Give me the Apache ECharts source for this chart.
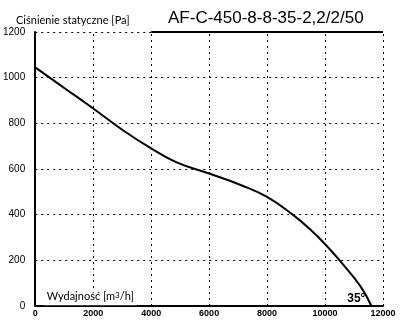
<!DOCTYPE html>
<html><head><meta charset="utf-8">
<script src="https://cdn.jsdelivr.net/npm/echarts@6/dist/echarts.min.js"></script>
<style>html,body{margin:0;padding:0;background:#fff}#c{width:400px;height:326px}</style>
</head><body><div id="c"></div>
<script>
const flowX = [0, 1000, 2000, 3000, 4000, 4880, 6000, 7110, 8000, 8885, 9510, 10030, 10540, 11230, 11600];
const pressureY = [1045, 955, 865, 772, 690, 629, 580, 529, 478, 400, 333, 267, 194, 85, 0];
const xTicks = [0, 2000, 4000, 6000, 8000, 10000, 12000];
const yTicks = [0, 200, 400, 600, 800, 1000, 1200];
const titleText = 'AF-C-450-8-8-35-2,2/2/50';
const yName = 'Ciśnienie statyczne [Pa]';
const angleLabel = '35°';

const chart = echarts.init(document.getElementById('c'), null, {renderer: 'canvas'});
const dotStyle = () => ({color: '#000', width: 1, type: [2, 4]});
const gridMarks = [];
xTicks.slice(1).forEach(v => gridMarks.push({xAxis: v, lineStyle: dotStyle()}));
yTicks.slice(1).forEach(v => gridMarks.push({yAxis: v, lineStyle: dotStyle()}));
chart.setOption({
  animation: false,
  backgroundColor: '#fff',
  grid: {left: 33, right: 17, top: 32, bottom: 20, containLabel: false},
  title: [
    {text: titleText, left: 163, top: 5, textStyle: {fontFamily: 'Liberation Sans', fontWeight: 'normal', fontSize: 17, color: '#000'}},
    {text: yName, left: 11, top: 10, textStyle: {fontFamily: 'Lato', fontWeight: 'normal', fontSize: 11, color: '#000'}}
  ],
  xAxis: {
    type: 'value', min: xTicks[0], max: xTicks[xTicks.length - 1], interval: 2000,
    axisLine: {show: true, onZero: false, lineStyle: {color: '#000', width: 2}},
    axisTick: {show: false},
    axisLabel: {color: '#000', fontFamily: 'Liberation Sans', fontWeight: 'bold', fontSize: 9, margin: 3, formatter: v => String(v)},
    splitLine: {show: false}
  },
  yAxis: {
    type: 'value', min: yTicks[0], max: yTicks[yTicks.length - 1], interval: 200,
    axisLine: {show: true, onZero: false, lineStyle: {color: '#000', width: 2}},
    axisTick: {show: false},
    axisLabel: {color: '#000', fontFamily: 'Liberation Sans', fontSize: 10, margin: 10, formatter: v => String(v)},
    splitLine: {show: false}
  },
  series: [{
    type: 'line',
    data: [],
    markLine: {
      symbol: ['none', 'none'], label: {show: false},
      data: gridMarks
    }
  }, {
    type: 'line',
    z: 3,
    data: flowX.map((x, i) => [x, pressureY[i]]),
    smooth: 0.45,
    showSymbol: false,
    lineStyle: {color: '#000', width: 2},
    markLine: {
      symbol: ['none', 'none'], label: {show: false},
      data: [[{coord: [4000, 1200], lineStyle: {color: '#000', width: 2, type: 'solid'}}, {coord: [12000, 1200]}]]
    },
    markPoint: {
      symbol: 'rect', symbolSize: 0,
      data: [
        {coord: [11080, 30], label: {show: true, formatter: angleLabel, color: '#000', fontFamily: 'Liberation Sans', fontWeight: 'bold', fontSize: 12}},
        {coord: [1900, 40], label: {show: true, formatter: '{a|Wydajność [m}{s|3}{a|/h]}', backgroundColor: '#fff', padding: [3, 3, 3, 3],
          rich: {a: {color: '#000', fontFamily: 'Lato', fontSize: 11}, s: {color: '#000', fontFamily: 'Lato', fontSize: 8, verticalAlign: 'top', padding: [0, 0, 3, 0]}}}}
      ]
    }
  }]
});
</script></body></html>
